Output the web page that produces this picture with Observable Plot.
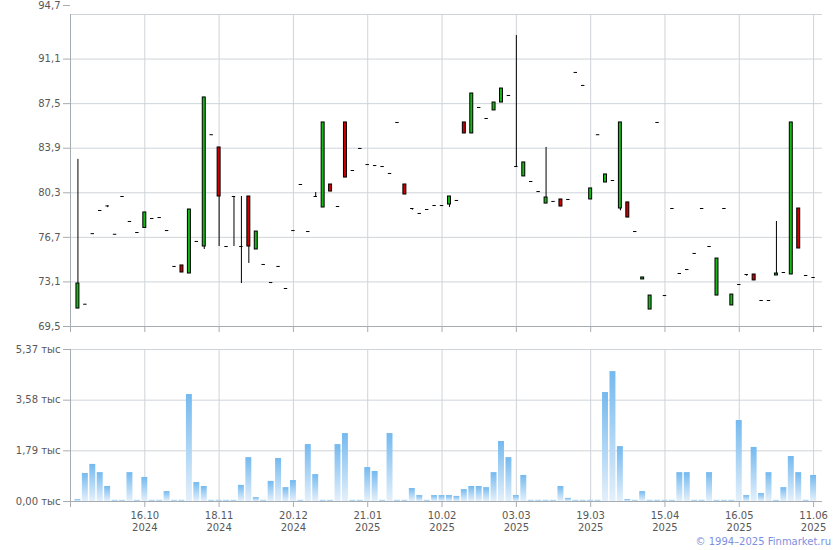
<!DOCTYPE html>
<html><head><meta charset="utf-8">
<script src="https://cdn.jsdelivr.net/npm/d3@7"></script>
<script src="https://cdn.jsdelivr.net/npm/@observablehq/plot@0.6"></script>
<style>
body{margin:0;background:#fff;}
#wrap{position:relative;width:840px;height:550px;overflow:hidden;font-family:"DejaVu Sans",sans-serif;background:#fff;}
#price{position:absolute;left:0;top:0;}
#vol{position:absolute;left:0;top:336px;}
#copy{position:absolute;right:9px;top:536px;font-size:10px;color:#7d8fe0;font-family:"DejaVu Sans",sans-serif;}
</style></head><body>
<div id="wrap"><div id="price"></div><div id="vol"></div><div id="copy">© 1994–2025 Finmarket.ru</div></div>
<script>
// ---- data (one entry per trading bar, left to right) ----
const openP = [70.95,71.3,77.0,78.87,79.24,76.95,80.0,77.98,77.09,77.46,
78.22,78.3,77.25,74.35,74.43,73.78,76.37,75.96,84.99,83.96,
75.96,80.0,75.96,80.0,75.72,74.51,73.05,74.35,72.57,77.25,
80.97,77.17,80.0,79.11,80.97,79.19,85.98,82.1,83.88,82.58,
82.5,82.42,81.86,85.98,80.97,79.03,78.63,78.95,79.27,79.27,
79.35,79.68,85.98,85.09,87.19,86.3,86.95,87.59,88.16,82.42,
81.62,81.21,80.4,79.43,79.6,79.76,79.76,90.02,88.97,79.76,
84.99,81.13,81.29,79.03,79.52,77.17,73.3,70.87,85.98,72.0,
79.03,73.78,74.1,75.4,79.03,75.96,72.0,79.03,71.2,72.89,
73.7,73.7,71.6,71.6,73.62,73.86,73.7,79.03,73.62,73.46];
const closeP = [72.97,71.3,77.0,78.87,79.24,76.95,80.0,77.98,77.09,78.71,
78.22,78.3,77.25,74.35,73.86,78.95,76.37,88.0,84.99,80.0,
75.96,80.0,75.96,75.96,77.17,74.51,73.05,74.35,72.57,77.25,
80.97,77.17,80.0,85.98,80.4,79.19,81.53,82.1,83.88,82.58,
82.5,82.42,81.86,85.98,80.16,79.03,78.63,78.95,79.27,79.27,
80.0,79.68,85.09,88.32,87.19,86.3,87.59,88.72,88.16,82.42,
82.75,81.21,80.4,79.92,79.6,79.19,79.76,90.02,88.97,80.65,
84.99,81.78,81.29,85.98,78.3,77.17,73.46,72.0,85.98,72.0,
79.03,73.78,74.1,75.4,79.03,75.96,74.99,79.03,72.08,72.89,
73.7,73.22,71.6,71.6,73.78,73.86,85.98,75.8,73.62,73.46];
const highP = [83.0,71.3,77.0,78.87,79.24,76.95,80.0,77.98,77.09,78.71,
78.22,78.3,77.25,74.35,74.43,78.95,76.37,88.0,84.99,83.96,
75.96,80.0,80.0,80.0,77.17,74.51,73.05,74.35,72.57,77.25,
80.97,77.17,80.32,85.98,80.97,79.19,85.98,82.1,83.88,82.58,
82.5,82.42,81.86,85.98,80.97,79.03,78.63,78.95,79.27,79.27,
80.0,79.68,85.98,88.32,87.19,86.3,87.59,88.72,88.16,93.0,
82.75,81.21,80.4,83.96,79.6,79.76,79.76,90.02,88.97,80.65,
84.99,81.78,81.29,85.98,79.52,77.17,73.46,72.0,85.98,72.0,
79.03,73.78,74.1,75.4,79.03,75.96,74.99,79.03,72.08,72.89,
73.7,73.7,71.6,71.6,77.98,73.86,85.98,79.03,73.62,73.46];
const lowP = [70.95,71.3,77.0,78.87,79.1,76.95,80.0,77.98,77.09,77.46,
78.22,78.3,77.25,74.35,73.86,73.78,76.37,75.72,84.99,75.96,
75.96,75.96,72.97,74.59,75.72,74.51,73.05,74.35,72.57,77.25,
80.97,77.17,80.0,79.11,80.4,79.19,81.53,82.1,83.88,82.58,
82.5,82.42,81.86,85.98,80.16,78.89,78.63,78.95,79.27,79.27,
79.11,79.68,85.09,85.09,87.19,86.3,86.95,87.59,88.16,82.42,
81.62,81.21,80.4,79.43,79.6,79.19,79.76,90.02,88.97,79.76,
84.99,81.13,81.29,78.84,78.3,77.17,73.3,70.87,85.98,72.0,
79.03,73.78,74.1,75.4,79.03,75.96,72.0,79.03,71.2,72.89,
73.56,73.22,71.6,71.6,73.62,73.86,73.7,75.8,73.62,73.46];
// volume, thousands
const volume = [0.07,0.99,1.31,1.02,0.53,0.04,0.04,1.02,0.04,0.85,
0.04,0.04,0.35,0.04,0.04,3.78,0.67,0.53,0.04,0.04,
0.04,0.04,0.57,1.55,0.14,0.04,0.71,1.52,0.49,0.74,
0.04,2.01,0.95,0.04,0.04,2.01,2.40,0.04,0.04,1.20,
1.06,0.04,2.40,0.04,0.04,0.46,0.21,0.04,0.21,0.21,
0.21,0.18,0.42,0.53,0.53,0.49,1.02,2.12,1.55,0.21,
0.92,0.04,0.04,0.04,0.04,0.53,0.11,0.04,0.04,0.04,
0.04,3.85,4.59,1.94,0.07,0.04,0.35,0.04,0.04,0.04,
0.04,1.02,1.02,0.04,0.04,1.02,0.04,0.04,0.04,2.86,
0.21,1.91,0.28,1.02,0.04,0.49,1.59,1.02,0.04,0.92];
const tickBar = [9,19,29,39,49,59,69,79,89,99];
const tickDay = ["16.10","18.11","20.12","21.01","10.02","03.03","19.03","15.04","16.05","11.06"];
const tickYear = ["2024","2024","2024","2025","2025","2025","2025","2025","2025","2025"];
const priceTicks = [69.5,73.1,76.7,80.3,83.9,87.5,91.1,94.7];
const volTicks = [0,1.79,3.58,5.37];

// ---- build ----
const data = openP.map((o,i)=>({i, o, h: highP[i], l: lowP[i], c: closeP[i], v: volume[i]}));
const GRID = "#cfd4d9", AXIS = "#a7acb1", TXT = "#585858";
const comma = (d, n) => d.toFixed(n).replace(".", ",");
const xDom = [-1, 100.2];
const style = {fontFamily: "DejaVu Sans, sans-serif", fontSize: "10px", background: "white", overflow: "visible"};

const price = Plot.plot({
  width: 840, height: 336, marginLeft: 70, marginRight: 18, marginTop: 14, marginBottom: 10,
  x: {domain: xDom, axis: null, label: null},
  y: {domain: [69.5, 94.7], axis: null, label: null},
  color: {domain: ["up","down"], range: ["#16b816","#cc0000"]},
  style,
  marks: [
    Plot.gridY(priceTicks, {stroke: GRID, strokeOpacity: 1}),
    Plot.gridX(tickBar, {stroke: GRID, strokeOpacity: 1}),
    Plot.ruleY([69.5], {stroke: AXIS}),
    Plot.ruleX([-1], {stroke: AXIS}),
    Plot.axisY(priceTicks.slice(0, -1), {label: null, tickSize: 7, tickPadding: 3, tickFormat: d => comma(d,1), stroke: AXIS, fill: TXT}),
    Plot.axisY(priceTicks.slice(-1), {label: null, tickSize: 7, tickPadding: 3, tickFormat: d => comma(d,1), stroke: AXIS, fill: TXT, dy: -9}),
    Plot.axisX([-1, ...tickBar], {label: null, tickSize: 6, tickFormat: () => "", stroke: AXIS}),
    Plot.ruleX(data.filter(d => d.h > d.l), {x: "i", y1: "l", y2: "h", stroke: "#000", strokeWidth: 1}),
    Plot.rect(data.filter(d => d.o !== d.c), {x1: d => d.i - 0.2, x2: d => d.i + 0.2, y1: "o", y2: "c",
      fill: d => d.c > d.o ? "up" : "down", stroke: "#000", strokeWidth: 1}),
    Plot.ruleY(data.filter(d => d.o === d.c), {y: "c", x1: d => d.i - 0.23, x2: d => d.i + 0.23, stroke: "#000", strokeWidth: 1})
  ]
});
document.getElementById("price").append(price);

const defs = () => {
  const g = d3.create("svg:defs");
  const lg = g.append("linearGradient").attr("id", "vgrad").attr("x1", 0).attr("y1", 0).attr("x2", 0).attr("y2", 1);
  lg.append("stop").attr("offset", "0%").attr("stop-color", "#74b9ef");
  lg.append("stop").attr("offset", "100%").attr("stop-color", "#e4f0fb");
  return g.node();
};

const labelOf = i => { const k = tickBar.indexOf(i); return k < 0 ? "" : tickDay[k] + "\n" + tickYear[k]; };

const vol = Plot.plot({
  width: 840, height: 214, marginLeft: 70, marginRight: 18, marginTop: 13, marginBottom: 49,
  x: {domain: xDom, axis: null, label: null},
  y: {domain: [0, 5.37], axis: null, label: null},
  style,
  marks: [
    defs,
    Plot.gridY(volTicks, {stroke: GRID, strokeOpacity: 1}),
    Plot.gridX(tickBar, {stroke: GRID, strokeOpacity: 1}),
    Plot.rect(data, {x1: d => d.i - 0.4, x2: d => d.i + 0.4, y1: 0, y2: "v", fill: "url(#vgrad)"}),
    Plot.ruleY([0], {stroke: AXIS}),
    Plot.ruleX([-1], {stroke: AXIS}),
    Plot.axisY(volTicks, {label: null, tickSize: 7, tickPadding: 3, tickFormat: d => comma(d,2) + " тыс", stroke: AXIS, fill: TXT}),
    Plot.axisX([-1, ...tickBar], {label: null, tickSize: 6, tickPadding: 3, tickFormat: labelOf, stroke: AXIS, fill: TXT, lineHeight: 1.2})
  ]
});
document.getElementById("vol").append(vol);
</script>
</body></html>
